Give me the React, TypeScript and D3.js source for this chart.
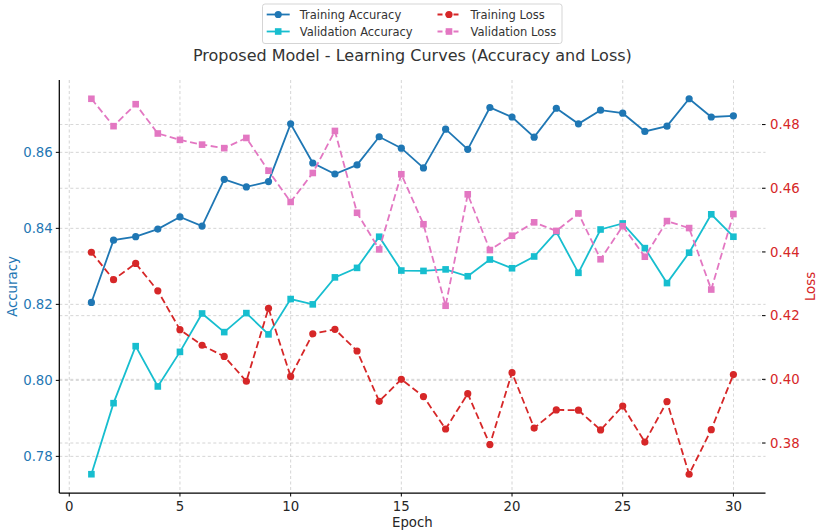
import React from "react";
import * as d3 from "d3";

const epochs = Array.from({ length: 30 }, (_, i) => i + 1);
const trainAcc = [0.8205, 0.8369, 0.8378, 0.8398, 0.843, 0.8406, 0.8529, 0.8509, 0.8523, 0.8675,
  0.8572, 0.8543, 0.8567, 0.8641, 0.8611, 0.8559, 0.8661, 0.8608, 0.8718, 0.8693,
  0.864, 0.8716, 0.8675, 0.8711, 0.8703, 0.8655, 0.8669, 0.8741, 0.8693, 0.8696];
const valAcc = [0.7753, 0.794, 0.809, 0.7984, 0.8075, 0.8176, 0.8127, 0.8177, 0.8121, 0.8214,
  0.82, 0.8271, 0.8296, 0.8378, 0.8289, 0.8288, 0.8292, 0.8274, 0.8318, 0.8295,
  0.8326, 0.8391, 0.8283, 0.8397, 0.8413, 0.8348, 0.8256, 0.8336, 0.8437, 0.8378];
const trainLoss = [0.4399, 0.4313, 0.4364, 0.4278, 0.4156, 0.4107, 0.4072, 0.3994, 0.4223, 0.4009,
  0.4143, 0.4157, 0.4089, 0.3931, 0.4, 0.3946, 0.3844, 0.3955, 0.3795, 0.4021,
  0.3847, 0.3904, 0.3903, 0.3841, 0.3916, 0.3803, 0.393, 0.3702, 0.3842, 0.4015];
const valLoss = [0.4881, 0.4795, 0.4864, 0.4772, 0.4752, 0.4737, 0.4726, 0.4758, 0.4655, 0.4557,
  0.4648, 0.478, 0.4523, 0.4408, 0.4644, 0.4487, 0.4231, 0.4581, 0.4406, 0.4451,
  0.4493, 0.4466, 0.4521, 0.4377, 0.4481, 0.4385, 0.4497, 0.4475, 0.4282, 0.4519];

const xTicks = [0, 5, 10, 15, 20, 25, 30];
const accTicks = [0.78, 0.8, 0.82, 0.84, 0.86];
const lossTicks = [0.38, 0.4, 0.42, 0.44, 0.46, 0.48];

const C_TA = "#1f77b4";
const C_VA = "#17becf";
const C_TL = "#d62728";
const C_VL = "#e377c2";
const FONT = "DejaVu Sans, sans-serif";

function pad(arr: number[]) {
  const lo = d3.min(arr)!, hi = d3.max(arr)!;
  const m = (hi - lo) * 0.05;
  return [lo - m, hi + m];
}

export default function App() {
  const L = 59.3, R = 765.5, T = 80, B = 493;
  const x = d3.scaleLinear().domain(pad(epochs)).range([L, R]);
  const yA = d3.scaleLinear().domain(pad([...trainAcc, ...valAcc])).range([B, T]);
  const yL = d3.scaleLinear().domain(pad([...trainLoss, ...valLoss])).range([B, T]);

  const lineA = (vals: number[]) =>
    d3.line<number>().x((_, i) => x(epochs[i])).y((v) => yA(v))(vals) || "";
  const lineL = (vals: number[]) =>
    d3.line<number>().x((_, i) => x(epochs[i])).y((v) => yL(v))(vals) || "";

  const gridStyle = { stroke: "#b0b0b0", strokeWidth: 0.8, strokeDasharray: "3,2.5", opacity: 0.65 };

  const circles = (vals: number[], ys: any, color: string) =>
    vals.map((v, i) => <circle key={i} cx={x(epochs[i])} cy={ys(v)} r={3.6} fill={color} />);
  const squares = (vals: number[], ys: any, color: string) =>
    vals.map((v, i) => (
      <rect key={i} x={x(epochs[i]) - 3.3} y={ys(v) - 3.3} width={6.6} height={6.6} fill={color} />
    ));

  const legendItems = [
    { label: "Training Accuracy", color: C_TA, dashed: false, sq: false, lx: 266.7, ty: 14.5 },
    { label: "Validation Accuracy", color: C_VA, dashed: false, sq: true, lx: 266.7, ty: 31.5 },
    { label: "Training Loss", color: C_TL, dashed: true, sq: false, lx: 437.5, ty: 14.5 },
    { label: "Validation Loss", color: C_VL, dashed: true, sq: true, lx: 437.5, ty: 31.5 },
  ];

  return (
    <svg width={817} height={531} style={{ position: "absolute", left: 0, top: 0, background: "#fff" }}
      fontFamily={FONT}>
      <rect x={0} y={0} width={817} height={531} fill="#fff" />
      {/* grids */}
      {xTicks.map((t) => (
        <line key={"gx" + t} x1={x(t)} x2={x(t)} y1={T} y2={B} {...gridStyle} />
      ))}
      {accTicks.map((t) => (
        <line key={"ga" + t} x1={L} x2={R} y1={yA(t)} y2={yA(t)} {...gridStyle} />
      ))}
      {lossTicks.map((t) => (
        <line key={"gl" + t} x1={L} x2={R} y1={yL(t)} y2={yL(t)} {...gridStyle} />
      ))}

      {/* accuracy lines */}
      <path d={lineA(trainAcc)} fill="none" stroke={C_TA} strokeWidth={1.8} />
      {circles(trainAcc, yA, C_TA)}
      <path d={lineA(valAcc)} fill="none" stroke={C_VA} strokeWidth={1.8} />
      {squares(valAcc, yA, C_VA)}

      {/* loss lines */}
      <path d={lineL(trainLoss)} fill="none" stroke={C_TL} strokeWidth={1.8} strokeDasharray="7,3.5" />
      {circles(trainLoss, yL, C_TL)}
      <path d={lineL(valLoss)} fill="none" stroke={C_VL} strokeWidth={1.8} strokeDasharray="7,3.5" />
      {squares(valLoss, yL, C_VL)}

      {/* spines */}
      <line x1={L} x2={L} y1={T} y2={B} stroke="#000" strokeWidth={1.25} />
      <line x1={L} x2={R} y1={B} y2={B} stroke="#000" strokeWidth={1.25} />

      {/* x ticks */}
      {xTicks.map((t) => (
        <g key={"xt" + t}>
          <line x1={x(t)} x2={x(t)} y1={B} y2={B + 3.5} stroke="#000" strokeWidth={1} />
          <text x={x(t)} y={B + 18} textAnchor="middle" fontSize={13.3} fill="#262626">{t}</text>
        </g>
      ))}
      {/* left ticks */}
      {accTicks.map((t) => (
        <g key={"yt" + t}>
          <line x1={L - 3.5} x2={L} y1={yA(t)} y2={yA(t)} stroke="#000" strokeWidth={1} />
          <text x={L - 6.5} y={yA(t) + 4.8} textAnchor="end" fontSize={13.3} fill={C_TA}>{t.toFixed(2)}</text>
        </g>
      ))}
      {/* right ticks */}
      {lossTicks.map((t) => (
        <g key={"rt" + t}>
          <line x1={R - 3.5} x2={R} y1={yL(t)} y2={yL(t)} stroke="#000" strokeWidth={1} />
          <text x={R + 4.5} y={yL(t) + 4.8} textAnchor="start" fontSize={13.3} fill={C_TL}>{t.toFixed(2)}</text>
        </g>
      ))}

      {/* axis labels */}
      <text x={(L + R) / 2} y={527} textAnchor="middle" fontSize={13.3} fill="#262626">Epoch</text>
      <text transform={`translate(16.5,${(T + B) / 2}) rotate(-90)`} textAnchor="middle" fontSize={13.3} fill={C_TA}>Accuracy</text>
      <text transform={`translate(814.5,${(T + B) / 2}) rotate(-90)`} textAnchor="middle" fontSize={13.3} fill={C_TL}>Loss</text>

      {/* title */}
      <text x={(L + R) / 2} y={61} textAnchor="middle" fontSize={16} fill="#333">
        Proposed Model - Learning Curves (Accuracy and Loss)
      </text>

      {/* legend */}
      <rect x={262.5} y={4} width={299.5} height={39.5} rx={2.5} fill="#fff" fillOpacity={0.8} stroke="#d0d0d0" strokeWidth={0.9} />
      {legendItems.map((it) => (
        <g key={it.label}>
          <line x1={it.lx} x2={it.lx + 23} y1={it.ty} y2={it.ty} stroke={it.color} strokeWidth={1.8}
            strokeDasharray={it.dashed ? "5,3" : undefined} />
          {it.sq ? (
            <rect x={it.lx + 11.5 - 3.3} y={it.ty - 3.3} width={6.6} height={6.6} fill={it.color} />
          ) : (
            <circle cx={it.lx + 11.5} cy={it.ty} r={3.6} fill={it.color} />
          )}
          <text x={it.lx + 33} y={it.ty + 4.2} fontSize={11.5} fill="#333">{it.label}</text>
        </g>
      ))}
    </svg>
  );
}
